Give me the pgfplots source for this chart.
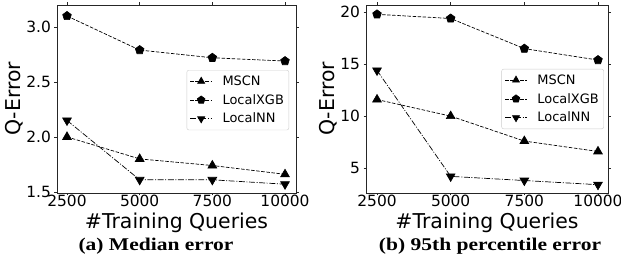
\documentclass[border=0pt]{standalone}
\usepackage{fontspec}
\setmainfont{DejaVu Sans}
\newfontfamily\capfont[FakeStretch=1.2]{Liberation Serif}
\usepackage{pgfplots}
\pgfplotsset{compat=1.18}
\usetikzlibrary{plotmarks}
\pgfplotsset{
  mystyle/.style={
    scale only axis,
    width=239bp, height=188bp,
    axis line style={black!85, line width=0.8pt},
    tick style={black!85, line width=0.8pt},
    tick align=outside,
    major tick length=2.5bp,
    scaled x ticks=false,
    xtick={2500,5000,7500,10000},
    xticklabels={2500,5000,7500,10000},
    ticklabel style={font=\fontsize{15.5}{17}\selectfont},
    xticklabel style={anchor=base, yshift=-11bp},
    label style={font=\fontsize{20.5}{23}\selectfont},
    /pgf/number format/assume math mode=true,
    xlabel={\#Training Queries},
    ylabel={Q-Error},
    xlabel style={at={(axis description cs:0.5,0)}, anchor=base, yshift=-36bp},
    ylabel style={yshift=-4bp},
    legend style={font=\fontsize{13}{15}\selectfont, draw=black!20, rounded corners=2pt, fill=white, inner xsep=3pt, inner ysep=3.5pt, row sep=3.5bp,
      /tikz/every odd column/.append style={column sep=8bp}},
    legend image code/.code={\draw[mark repeat=2, mark phase=2, mark size=4bp] plot coordinates {(0bp,0bp) (11bp,0bp) (22bp,0bp)};},
    legend cell align=left,
    every axis plot/.append style={black, line width=0.7pt},
  },
  mscn/.style={dash pattern=on 3.5pt off 1.6pt, mark=triangle*, mark size=5bp, mark options={solid}},
  xgb/.style={dash pattern=on 3.5pt off 1.6pt, mark=pentagon*, mark size=4.5bp, mark options={solid}},
  lnn/.style={dash pattern=on 6pt off 1.6pt on 1pt off 1.6pt, mark=triangle*, mark size=5bp, mark options={solid, rotate=180}},
}
\begin{document}
\begin{tikzpicture}
\path[use as bounding box] (0,0) rectangle (621bp,263bp);
\begin{axis}[mystyle, at={(57bp,70bp)}, anchor=south west,
  xmin=2156, xmax=10378, ymin=1.49, ymax=3.2,
  ytick={1.5,2.0,2.5,3.0},
  yticklabel style={/pgf/number format/fixed, /pgf/number format/fixed zerofill, /pgf/number format/precision=1},
  legend style={at={(0.971,0.654)}, anchor=north east}]
\addplot[mscn] coordinates {(2500,2.0) (5000,1.8) (7500,1.74) (10000,1.66)};
\addlegendentry{MSCN}
\addplot[xgb] coordinates {(2500,3.1) (5000,2.79) (7500,2.72) (10000,2.69)};
\addlegendentry{LocalXGB}
\addplot[lnn] coordinates {(2500,2.15) (5000,1.61) (7500,1.61) (10000,1.57)};
\addlegendentry{LocalNN}
\end{axis}
\begin{axis}[mystyle, at={(366bp,70bp)}, anchor=south west, width=242bp,
  xmin=2126, xmax=10340, ymin=2.6, ymax=20.7,
  ytick={5,10,15,20},
  legend style={at={(0.983,0.66)}, anchor=north east}]
\addplot[mscn] coordinates {(2500,11.6) (5000,10.0) (7500,7.6) (10000,6.6)};
\addlegendentry{MSCN}
\addplot[xgb] coordinates {(2500,19.8) (5000,19.4) (7500,16.5) (10000,15.4)};
\addlegendentry{LocalXGB}
\addplot[lnn] coordinates {(2500,14.4) (5000,4.2) (7500,3.8) (10000,3.4)};
\addlegendentry{LocalNN}
\end{axis}
\node[font=\capfont\bfseries\fontsize{18}{20}\selectfont, anchor=base] at (156bp,13bp) {(a) Median error};
\node[font=\capfont\bfseries\fontsize{18}{20}\selectfont, anchor=base] at (490bp,13bp) {(b) 95th percentile error};
\end{tikzpicture}
\end{document}
